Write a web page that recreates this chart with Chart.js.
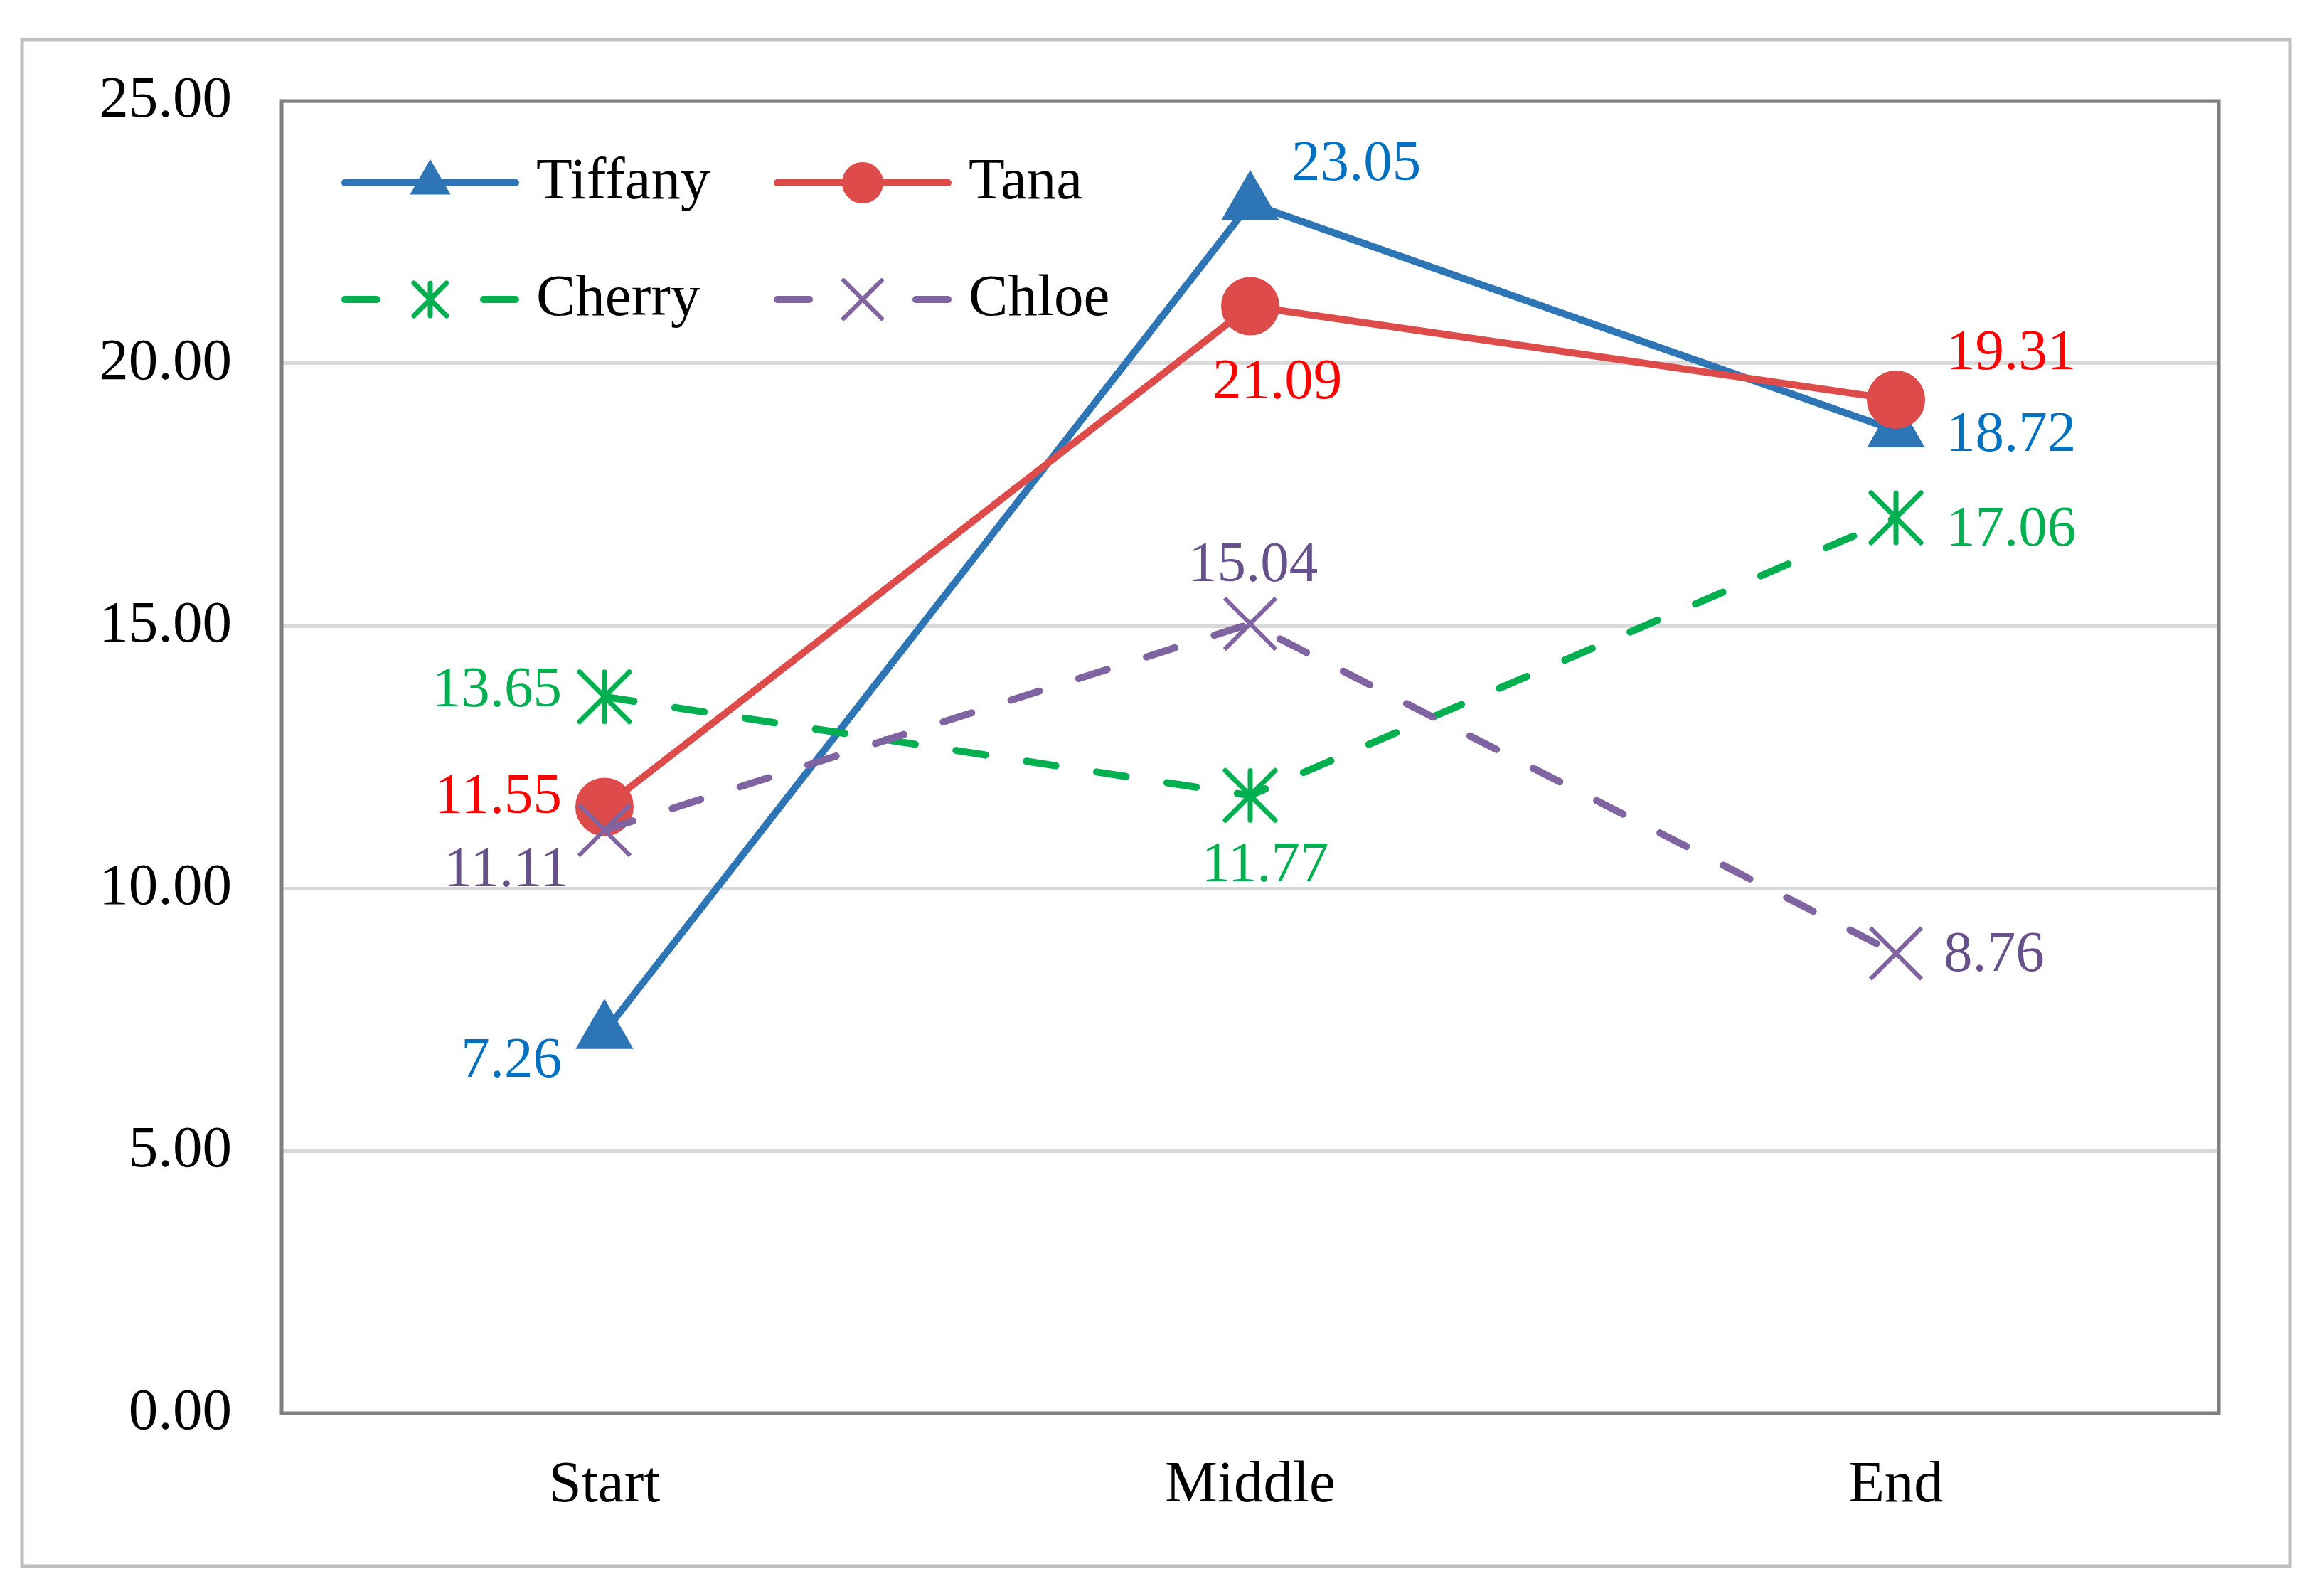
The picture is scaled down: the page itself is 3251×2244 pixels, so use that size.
<!DOCTYPE html>
<html>
<head>
<meta charset="utf-8">
<script src="https://cdn.jsdelivr.net/npm/chart.js@4.4.0/dist/chart.umd.min.js"></script>
<style>
    html, body { margin: 0; padding: 0; background: #fff; }
    canvas { display: block; }
</style>
</head>
<body>
<canvas id="myChart" width="3251" height="2244"></canvas>
<script>
// Données
const categories = ['Start', 'Middle', 'End'];
const tiffany = [7.26, 23.05, 18.72];
const tana = [11.55, 21.09, 19.31];
const cherry = [13.65, 11.77, 17.06];
const chloe = [11.11, 15.04, 8.76];
const yTicks = [0, 5, 10, 15, 20, 25];

const FONT = '"Liberation Serif", "Times New Roman", serif';

// marqueur étoile (astérisque façon Excel)
function makeStar(size, color, lw) {
    const c = document.createElement('canvas');
    c.width = size;
    c.height = size;
    const g = c.getContext('2d');
    const m = size / 2;
    const r = size / 2 - lw;
    g.strokeStyle = color;
    g.lineWidth = lw;
    g.lineCap = 'round';
    g.beginPath();
    g.moveTo(m, m - r); g.lineTo(m, m + r);
    g.moveTo(m - r, m - r); g.lineTo(m + r, m + r);
    g.moveTo(m - r, m + r); g.lineTo(m + r, m - r);
    g.stroke();
    return c;
}

const starBig = makeStar(84, '#00B050', 7);
const starSmall = makeStar(60, '#00B050', 7);

// Fond blanc + cadre extérieur
const framePlugin = {
    id: 'frame',
    beforeDraw(chart) {
        const ctx = chart.ctx;
        ctx.save();
        ctx.fillStyle = '#ffffff';
        ctx.fillRect(0, 0, chart.width, chart.height);
        ctx.strokeStyle = '#BFBFBF';
        ctx.lineWidth = 5;
        ctx.strokeRect(31, 56, 3189, 2146);
        ctx.restore();
    },
    afterDatasetsDraw(chart) {
        const a = chart.chartArea;
        const ctx = chart.ctx;
        ctx.save();
        ctx.strokeStyle = '#7F7F7F';
        ctx.lineWidth = 5;
        ctx.strokeRect(a.left, a.top, a.right - a.left, a.bottom - a.top);
        ctx.restore();
    }
};

// Étiquettes de valeurs
const labelPlugin = {
    id: 'valueLabels',
    afterDatasetsDraw(chart) {
        const ctx = chart.ctx;
        ctx.save();
        ctx.font = '81px ' + FONT;
        ctx.textBaseline = 'middle';
        chart.data.datasets.forEach((ds, i) => {
            const meta = chart.getDatasetMeta(i);
            meta.data.forEach((pt, j) => {
                const p = ds.labelPlace[j];
                ctx.fillStyle = ds.labelColor;
                ctx.textAlign = p[0];
                ctx.fillText(ds.data[j].toFixed(2), pt.x + p[1], pt.y + p[2]);
            });
        });
        ctx.restore();
    }
};

// Légende dessinée à la main (ligne + marqueur)
const legendPlugin = {
    id: 'customLegend',
    afterDraw(chart) {
        const ctx = chart.ctx;
        const cols = [480, 1088];
        const rows = [257, 421];
        ctx.save();
        chart.data.datasets.forEach((ds, i) => {
            const x0 = cols[i % 2];
            const y = rows[Math.floor(i / 2)];
            const x1 = x0 + 250;
            const xm = (x0 + x1) / 2;
            ctx.strokeStyle = ds.borderColor;
            ctx.lineWidth = 10;
            ctx.lineCap = 'round';
            ctx.beginPath();
            if (ds.borderDash) {
                ctx.moveTo(x0 + 5, y); ctx.lineTo(x0 + 50, y);
                ctx.moveTo(x1 - 50, y); ctx.lineTo(x1 - 5, y);
            } else {
                ctx.moveTo(x0 + 5, y); ctx.lineTo(x1 - 5, y);
            }
            ctx.stroke();
            if (ds.pointStyle instanceof HTMLCanvasElement) {
                ctx.drawImage(starSmall, xm - 30, y - 30);
            } else {
                ctx.fillStyle = ds.borderColor;
                ctx.strokeStyle = ds.borderColor;
                ctx.lineWidth = ds.pointBorderWidth;
                Chart.helpers.drawPoint(ctx, {
                    pointStyle: ds.pointStyle,
                    radius: ds.legendRadius,
                    borderWidth: ds.pointBorderWidth
                }, xm, y);
            }
            ctx.fillStyle = '#000000';
            ctx.font = '83px ' + FONT;
            ctx.textAlign = 'left';
            ctx.textBaseline = 'middle';
            ctx.fillText(ds.label, x1 + 24, y);
        });
        ctx.restore();
    }
};

const ctx = document.getElementById('myChart').getContext('2d');
const myChart = new Chart(ctx, {
    type: 'line',
    data: {
        labels: categories,
        datasets: [{
            label: 'Tiffany',
            data: tiffany,
            borderColor: '#2E75B6',
            backgroundColor: '#2E75B6',
            borderWidth: 10,
            pointStyle: 'triangle',
            pointRadius: 45,
            pointBorderWidth: 2,
            legendRadius: 31,
            labelColor: '#0070C0',
            labelPlace: [['right', -60, 42], ['left', 58, -54], ['left', 71, 7]],
            order: 4
        }, {
            label: 'Tana',
            data: tana,
            borderColor: '#DD4B4B',
            backgroundColor: '#DD4B4B',
            borderWidth: 10,
            pointStyle: 'circle',
            pointRadius: 40,
            pointBorderWidth: 2,
            legendRadius: 28,
            labelColor: '#FF0000',
            labelPlace: [['right', -60, -13], ['center', 38, 108], ['left', 71, -64]],
            order: 3
        }, {
            label: 'Cherry',
            data: cherry,
            borderColor: '#00B050',
            backgroundColor: '#00B050',
            borderWidth: 10,
            borderDash: [42, 58],
            borderCapStyle: 'round',
            pointStyle: starBig,
            pointRadius: 40,
            pointBorderWidth: 7,
            legendRadius: 28,
            labelColor: '#00B050',
            labelPlace: [['right', -60, -8], ['center', 21, 99], ['left', 71, 18]],
            order: 2
        }, {
            label: 'Chloe',
            data: chloe,
            borderColor: '#8064A2',
            backgroundColor: '#8064A2',
            borderWidth: 10,
            borderDash: [42, 58],
            borderCapStyle: 'round',
            pointStyle: 'crossRot',
            pointRadius: 51,
            pointBorderWidth: 6,
            legendRadius: 38,
            labelColor: '#66518A',
            labelPlace: [['right', -50, 58], ['center', 4, -81], ['left', 67, 3]],
            order: 1
        }]
    },
    options: {
        responsive: false,
        animation: false,
        devicePixelRatio: 1,
        layout: {
            padding: { top: 142, right: 131, left: 0, bottom: 0 }
        },
        plugins: {
            legend: { display: false },
            tooltip: { enabled: false }
        },
        elements: {
            line: { tension: 0 }
        },
        scales: {
            x: {
                type: 'category',
                offset: true,
                grid: { display: false },
                border: { display: false },
                ticks: {
                    color: '#000000',
                    font: { family: FONT, size: 83 },
                    padding: 44,
                    maxRotation: 0
                },
                afterFit(s) { s.height = 257; }
            },
            y: {
                min: 0,
                max: 25,
                grid: { color: '#D9D9D9', lineWidth: 5, drawTicks: false },
                border: { display: false },
                ticks: {
                    color: '#000000',
                    font: { family: FONT, size: 83 },
                    padding: 70,
                    callback: (v) => v.toFixed(2)
                },
                afterBuildTicks(axis) {
                    axis.ticks = yTicks.map(v => ({ value: v }));
                },
                afterFit(s) { s.width = 396; }
            }
        }
    },
    plugins: [framePlugin, labelPlugin, legendPlugin]
});
</script>
</body>
</html>
